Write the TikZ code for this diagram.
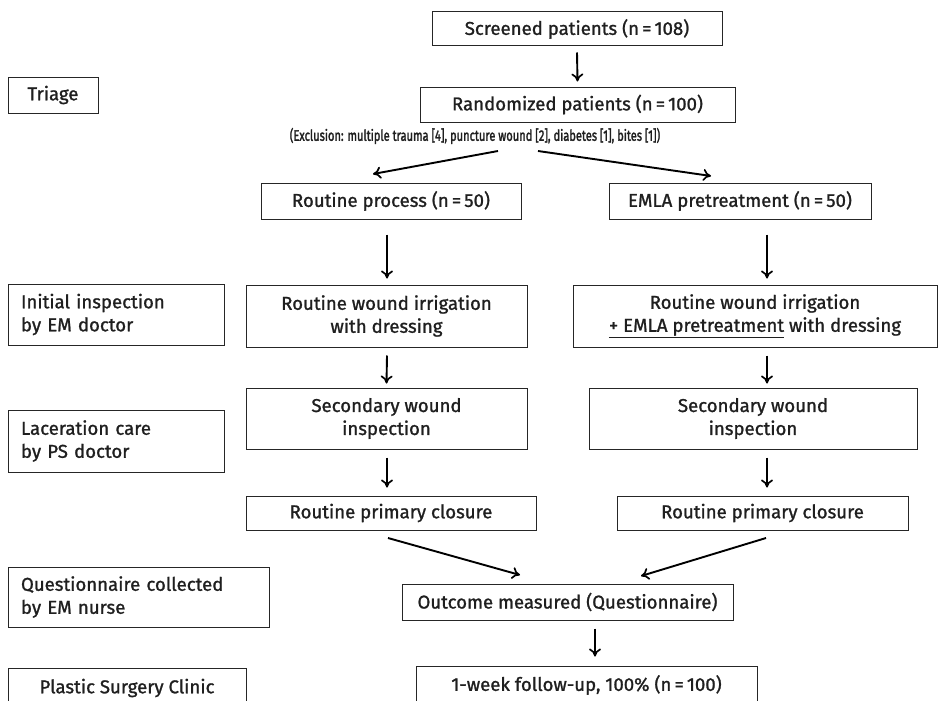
\documentclass[tikz,border=0pt]{standalone}
\usepackage{fontspec}
\setmainfont{Fira Sans}[FakeBold=1.2]
\usetikzlibrary{arrows.meta,calc}
\begin{document}
\begin{tikzpicture}[x=1pt,y=-1pt,
  box/.style={draw=black!85,line width=1pt,inner sep=0pt,align=center,
    font=\fontsize{18.6}{23}\selectfont,text=black!88},
  lbox/.style={box,align=left,text width=#1},
  arr/.style={draw=black,line width=1.9pt,-{To[length=8pt,width=12pt,line width=1.7pt]}}]
\useasboundingbox (0,0) rectangle (942,701);
\clip (0,0) rectangle (942,701);
% centre column
\node[box,minimum width=290,minimum height=34] (scr) at (577,29) {Screened patients (n\,=\,108)};
\node[box,minimum width=315,minimum height=35] (rand) at (577.5,104.5) {Randomized patients (n\,=\,100)};
\node[inner sep=0pt,font=\fontsize{15.2}{17}\selectfont\addfontfeatures{FakeBold=2.2},text=black!88] (excl) at (475,136)
  {\scalebox{0.73}[1]{(Exclusion: multiple trauma [4], puncture wound [2], diabetes [1], bites [1])}};
\node[box,minimum width=260,minimum height=36] (rout) at (391,201) {Routine process (n\,=\,50)};
\node[box,minimum width=262,minimum height=36] (emla) at (740,201) {EMLA pretreatment (n\,=\,50)};
\node[box,minimum width=281,minimum height=62] (irrL) at (386.5,316) {Routine wound irrigation\\with dressing};
\node[box,minimum width=364,minimum height=62] (irrR) at (755,316) {Routine wound irrigation\\\underline{+ EMLA pretreatment} with dressing};
\node[box,minimum width=281,minimum height=61] (secL) at (386.5,418.5) {Secondary wound\\inspection};
\node[box,minimum width=328,minimum height=61] (secR) at (753,418.5) {Secondary wound\\inspection};
\node[box,minimum width=290,minimum height=34] (pcL) at (391,513) {Routine primary closure};
\node[box,minimum width=291,minimum height=34] (pcR) at (762.5,513) {Routine primary closure};
\node[box,minimum width=331,minimum height=36] (outc) at (567.5,602) {Outcome measured (Questionnaire)};
\node[box,minimum width=341,minimum height=38] (foll) at (586.5,685) {1-week follow-up, 100\% (n\,=\,100)};
% left column
\node[box,minimum width=90,minimum height=36] (tri) at (53,95) {Triage};
\node[lbox=190,minimum width=216,minimum height=61] (init) at (116,314.5) {Initial inspection\\by EM doctor};
\node[lbox=190,minimum width=216,minimum height=62] (lac) at (116,441) {Laceration care\\by PS doctor};
\node[lbox=235,minimum width=261,minimum height=60] (quest) at (138.5,597) {Questionnaire collected\\by EM nurse};
\node[box,minimum width=238,minimum height=40] (psc) at (127,688) {Plastic Surgery Clinic};
% arrow endpoints
\coordinate (a1s) at (498,151);
\coordinate (a1e) at (373,174);
\coordinate (a2s) at (538,151);
\coordinate (a2e) at (711,176);
\coordinate (b1s) at (388,538);
\coordinate (b1e) at (520,575);
\coordinate (b2s) at (766,538);
\coordinate (b2e) at (641,576);
% connectors
\draw[arr] ([yshift=-6pt]scr.south) -- ([yshift=5pt]rand.north);
\draw[arr] (a1s) -- (a1e);
\draw[arr] (a2s) -- (a2e);
\draw[arr] ([xshift=-4pt,yshift=-15pt]rout.south) -- ([xshift=0.5pt,yshift=6pt]irrL.north);
\draw[arr] ([xshift=27pt,yshift=-15pt]emla.south) -- ([xshift=12pt,yshift=6pt]irrR.north);
\draw[arr] ([xshift=0.5pt,yshift=-8pt]irrL.south) -- ([yshift=4pt]secL.north);
\draw[arr] ([xshift=12pt,yshift=-8pt]irrR.south) -- ([xshift=14pt,yshift=4pt]secR.north);
\draw[arr] ([xshift=0.5pt,yshift=-8pt]secL.south) -- ([xshift=-4pt,yshift=8pt]pcL.north);
\draw[arr] ([xshift=14pt,yshift=-8pt]secR.south) -- ([xshift=4.5pt,yshift=8pt]pcR.north);
\draw[arr] (b1s) -- (b1e);
\draw[arr] (b2s) -- (b2e);
\draw[arr] ([xshift=27.5pt,yshift=-8pt]outc.south) -- ([xshift=8.5pt,yshift=9pt]foll.north);
\end{tikzpicture}
\end{document}
